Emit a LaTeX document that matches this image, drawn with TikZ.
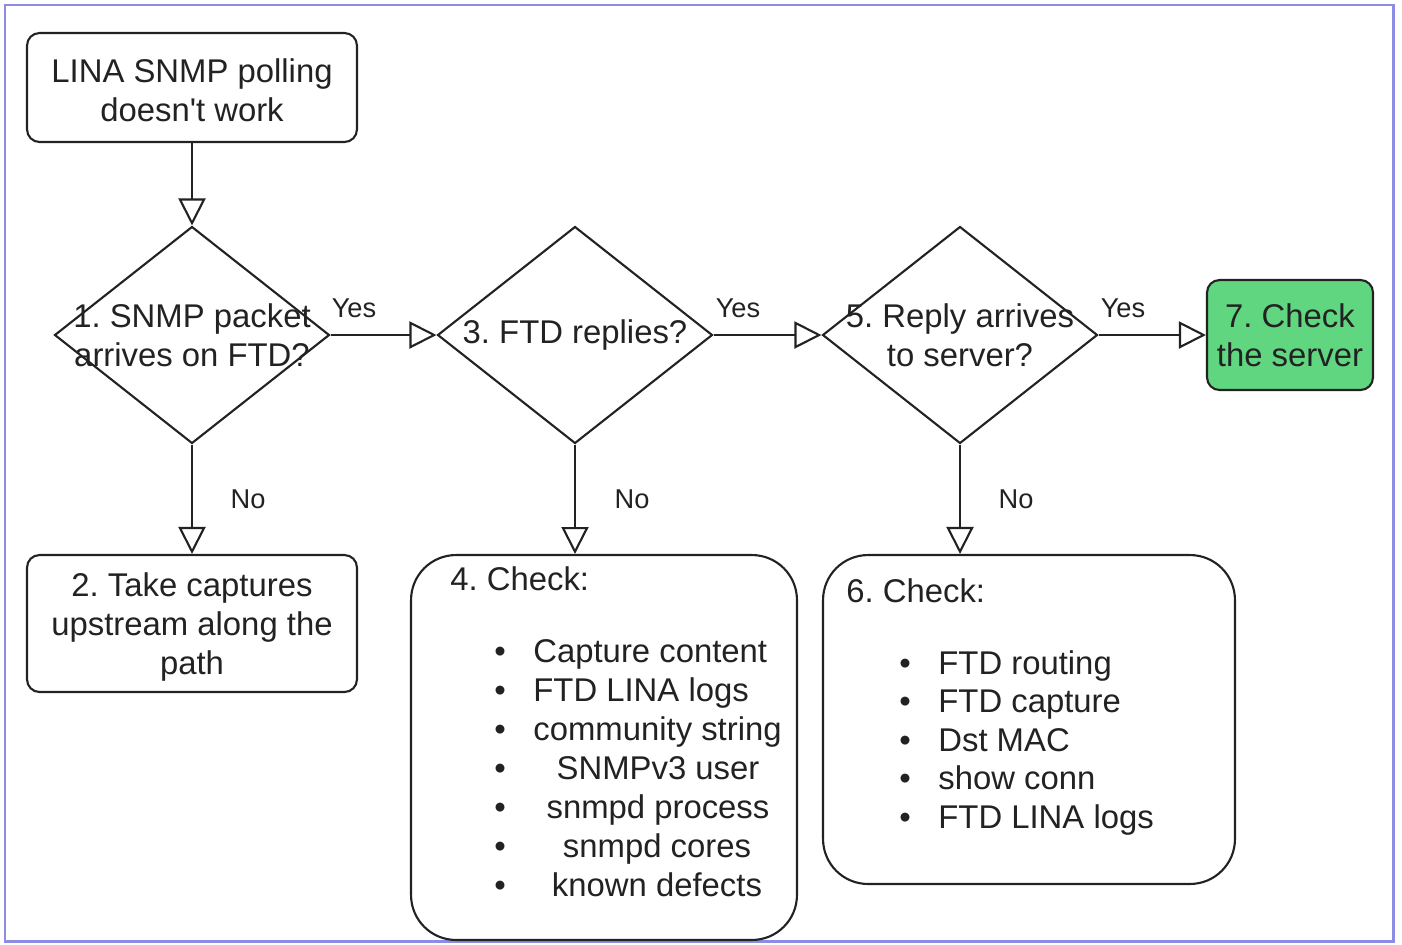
\documentclass[tikz,border=0pt]{standalone}
\usepackage{fontspec}
\setmainfont{Liberation Sans}
\usepackage{xcolor}
\usetikzlibrary{shapes.geometric,arrows.meta}
\frenchspacing

\definecolor{framecol}{RGB}{140,140,228}
\definecolor{okgreen}{RGB}{96,214,128}
\definecolor{inkcol}{RGB}{34,34,34}

\tikzset{
	box/.style={draw=inkcol, line width=1.2pt, rounded corners=0.25cm, inner sep=0pt,
		font=\fontsize{18.7}{22}\selectfont, text=inkcol, align=center},
	bigbox/.style={draw=inkcol, line width=1.2pt, rounded corners=0.9cm, inner sep=0pt},
	decision/.style={draw=inkcol, line width=1.2pt, diamond, aspect=1, inner sep=0pt,
		minimum width=5.5cm, minimum height=4.34cm},
	txt/.style={font=\fontsize{18.7}{22}\selectfont, text=inkcol, align=center, inner sep=0pt},
	item/.style={txt, text height=0.72em, text depth=0pt},
	lbl/.style={font=\fontsize{15.5}{18}\selectfont, text=inkcol, inner sep=0pt},
	flow/.style={draw=inkcol, line width=1.2pt, -{Triangle[open, length=0.54cm, width=0.54cm]}},
}

\begin{document}
\begin{tikzpicture}[x=0.02cm, y=-0.02cm]
				\useasboundingbox (0,0) rectangle (1402,944);
				\draw[framecol, line width=1.7pt] (5,5) rectangle (1393,941);
				
				% boxes
				\node[box, minimum width=6.6cm, minimum height=2.18cm] (start) at (192,87.5) {};
				\node[txt] (startt) at (192,90) {LINA SNMP polling\\doesn\textquotesingle t work};
				\node[box, minimum width=6.6cm, minimum height=2.74cm] (b2) at (192,623.5) {};
				\node[txt] (b2t) at (192,627) {2. Take captures\\upstream along the\\path};
				\node[box, fill=okgreen, minimum width=3.32cm, minimum height=2.2cm] (b7) at (1290,335)
					{7. Check\\the server};
				\node[bigbox, minimum width=7.72cm, minimum height=7.7cm] (b4) at (604,747.5) {};
				\node[bigbox, minimum width=8.24cm, minimum height=6.58cm] (b6) at (1029,719.5) {};
				
				% decisions
				\foreach \n/\x in {d1/192, d3/575, d5/960}{
					\node[decision] (\n) at (\x,335) {};
				}
				\node[txt] (d1t) at (d1) {1. SNMP packet\\arrives on FTD?};
				\node[txt] (d3t) at (d3) {3. FTD replies?};
				\node[txt] (d5t) at (d5) {5. Reply arrives\\to server?};
				
				% check lists
				\node[item, anchor=west] (t4) at (450,584) {4. Check:};
				\foreach \t/\a/\x [count=\i] in
				{Capture content/west/533, FTD LINA logs/west/533, community string/west/533,
				 SNMPv3 user/center/658, snmpd process/center/658, snmpd cores/center/657,
				 known defects/center/657}{
					\node[item] (p4\i) at (500,617+39*\i) {\textbullet};
					\node[item, anchor=\a] (c4\i) at (\x,617+39*\i) {\t};
				}
				\node[item, anchor=west] (t6) at (846,596) {6. Check:};
				\foreach \t [count=\i] in
				{FTD routing, FTD capture, Dst MAC, show conn, FTD LINA logs}{
					\node[item] (p6\i) at (905,629.5+38.5*\i) {\textbullet};
					\node[item, anchor=west] (c6\i) at (938,629.5+38.5*\i) {\t};
				}
				
				% connectors
				\draw[flow] (start) -- (d1);
				\draw[flow] (d1) -- (b2);
				\draw[flow] (d1) -- (d3);
				\draw[flow] (d3) -- (d5);
				\draw[flow] (d5) -- (b7);
				\draw[flow] (d3.south) -- (d3.south |- b4.north);
				\draw[flow] (d5.south) -- (d5.south |- b6.north);
				
				% yes / no
				\foreach \n/\x in {1/354, 3/738, 5/1123}{
					\node[lbl] (yes\n) at (\x,308) {Yes};
				}
				\foreach \n/\x in {1/248, 3/632, 5/1016}{
					\node[lbl] (no\n) at (\x,499) {No};
				}
			\end{tikzpicture}
\end{document}
